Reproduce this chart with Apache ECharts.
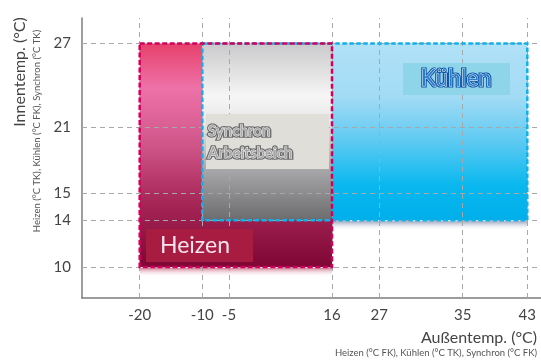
<!DOCTYPE html>
<html><head><meta charset="utf-8">
<script src="https://cdn.jsdelivr.net/npm/echarts@6/dist/echarts.min.js"></script>
<style>html,body{margin:0;padding:0;background:#fff}#c{width:541px;height:360px}</style>
</head><body><div id="c"></div>
<script>
// ---- data ----
const xTicks = [-20, -10, -5, 16, 27, 35, 43];
const yTicks = [10, 14, 15, 21, 27];
const regionNames = ['Heizen', 'Kühlen', 'Synchron'];
const regionXMin = [-20, -10, -10];
const regionXMax = [16, 43, 16];
const regionYMin = [10, 14, 14];
const regionYMax = [27, 27, 27];

// ---- layout: the reference uses a non-uniform (piecewise linear) scale ----
const xTickPos = [57.7, 120.3, 147, 250, 297.3, 380.7, 445.3];
const yTickPos = [31, 77.7, 105, 170.7, 254.4];
const X_MAX = 459, Y_MAX = 280;

function mapVal(v, ticks, pos) {
  let i = 0;
  while (i < ticks.length - 2 && v > ticks[i + 1]) i++;
  const t = (v - ticks[i]) / (ticks[i + 1] - ticks[i]);
  return pos[i] + t * (pos[i + 1] - pos[i]);
}
const mx = v => mapVal(v, xTicks, xTickPos);
const my = v => mapVal(v, yTicks, yTickPos);
function labelFor(v, ticks, pos) {
  const i = pos.findIndex(p => Math.abs(p - v) < 1e-3);
  return i >= 0 ? String(ticks[i]) : '';
}

const regionData = regionNames.map((n, i) => ({
  name: n,
  value: [mx(regionXMin[i]), mx(regionXMax[i]), my(regionYMin[i]), my(regionYMax[i])]
}));
const byName = n => regionData[regionNames.indexOf(n)];

const FONT = 'Lato, "Noto Sans", sans-serif';
const fills = {
  'Heizen': { type: 'linear', x: 0, y: 0, x2: 0, y2: 1, colorStops: [
    { offset: 0, color: '#e6416b' }, { offset: 0.2, color: '#ee72a8' },
    { offset: 0.45, color: '#d0568a' }, { offset: 0.7, color: '#a82858' },
    { offset: 1, color: '#7e0634' }] },
  'Kühlen': { type: 'linear', x: 0, y: 0, x2: 0, y2: 1, colorStops: [
    { offset: 0, color: '#b0e1f7' }, { offset: 0.3, color: '#a3dbf5' },
    { offset: 0.55, color: '#5ecaf2' }, { offset: 0.8, color: '#0ab8ef' },
    { offset: 1, color: '#00afea' }] },
  'Synchron': { type: 'linear', x: 0, y: 0, x2: 0, y2: 1, colorStops: [
    { offset: 0, color: '#cacacc' }, { offset: 0.3, color: '#f6f6f6' },
    { offset: 0.45, color: '#e6e6e6' }, { offset: 0.72, color: '#a6a6a8' },
    { offset: 1, color: '#6c6c6e' }] }
};
const borders = { 'Heizen': '#d2005c', 'Kühlen': '#10b0ea' };
const shadows = {
  'Heizen': ['rgba(205,110,135,0.85)', 'rgba(255,255,255,0)'],
  'Kühlen': ['rgba(95,105,145,0.6)', 'rgba(255,255,255,0)']
};

function rectOf(api) {
  const p0 = api.coord([api.value(0), api.value(3)]);
  const p1 = api.coord([api.value(1), api.value(2)]);
  return { x: p0[0], y: p0[1], width: p1[0] - p0[0], height: p1[1] - p0[1] };
}

const option = {
  animation: false,
  backgroundColor: '#fff',
  grid: { left: 82, right: 0, top: 18, bottom: 62 },
  xAxis: {
    type: 'value', min: 0, max: X_MAX,
    axisLine: { lineStyle: { color: '#7c7c7c', width: 1.5 } },
    axisTick: { show: false },
    splitLine: { show: false },
    axisLabel: { customValues: xTickPos, formatter: v => labelFor(v, xTicks, xTickPos),
      color: '#444', fontSize: 15, fontFamily: FONT, margin: 10 }
  },
  yAxis: {
    type: 'value', min: 0, max: Y_MAX,
    axisLine: { show: true, lineStyle: { color: '#7c7c7c', width: 1.5 } },
    axisTick: { show: false },
    splitLine: { show: false },
    axisLabel: { customValues: yTickPos, formatter: v => labelFor(v, yTicks, yTickPos),
      color: '#444', fontSize: 15, fontFamily: FONT, margin: 11 }
  },
  series: [
    {
      type: 'line', data: [], z: 1, silent: true,
      markLine: {
        silent: true, symbol: 'none', label: { show: false },
        lineStyle: { type: [5, 4], color: '#a8a8a8', width: 1 },
        data: xTickPos.map(p => ({ xAxis: p })).concat(yTickPos.map(p => ({ yAxis: p })))
      }
    },
    {
      type: 'custom', z: 2, silent: true, clip: false,
      data: [byName('Heizen'), byName('Kühlen')],
      renderItem: (params, api) => {
        const r = rectOf(api);
        const s = shadows[params.dataIndex === 0 ? 'Heizen' : 'Kühlen'];
        return { type: 'rect', shape: { x: r.x, y: r.y + r.height + 1, width: r.width, height: 9 },
          style: { fill: { type: 'linear', x: 0, y: 0, x2: 0, y2: 1,
            colorStops: [{ offset: 0, color: s[0] }, { offset: 1, color: s[1] }] } } };
      }
    },
    {
      type: 'custom', z: 3, silent: true, clip: false,
      data: regionData,
      renderItem: (params, api) => {
        const r = rectOf(api);
        const name = regionData[params.dataIndex].name;
        return { type: 'rect', shape: r, style: { fill: fills[name] } };
      }
    }
  ]
};

const chart = echarts.init(document.getElementById('c'), null, { renderer: 'canvas' });
chart.setOption(option);

// dashed region borders, positioned through the chart's own scale
function borderGraphic(name) {
  const i = regionNames.indexOf(name);
  const p0 = chart.convertToPixel({ gridIndex: 0 }, [mx(regionXMin[i]), my(regionYMax[i])]);
  const p1 = chart.convertToPixel({ gridIndex: 0 }, [mx(regionXMax[i]), my(regionYMin[i])]);
  return { type: 'rect', z: 8, silent: true,
    shape: { x: p0[0], y: p0[1], width: p1[0] - p0[0], height: p1[1] - p0[1] },
    style: { fill: 'transparent', stroke: borders[name], lineWidth: 2.5,
      lineDash: name === 'Heizen' ? [5, 2.5] : [4.5, 2.5] } };
}

chart.setOption({
  graphic: [
    borderGraphic('Kühlen'),
    borderGraphic('Heizen'),
    // region label boxes
    { type: 'rect', z: 10, shape: { x: 206, y: 114, width: 123, height: 55 }, style: { fill: '#e0ded8' } },
    { type: 'text', z: 11, style: { text: 'Synchron\nArbeitsbeich', x: 208, y: 120, font: 'bold 15px ' + FONT,
      fill: '#fff', stroke: '#6e6e6e', lineWidth: 3.5, lineHeight: 22 } },
    { type: 'text', z: 12, style: { text: 'Synchron\nArbeitsbeich', x: 208, y: 120, font: 'bold 15px ' + FONT,
      fill: '#a8a8a8', stroke: '#fff', lineWidth: 0.8, lineHeight: 22 } },

    { type: 'rect', z: 10, shape: { x: 146, y: 229, width: 107, height: 33 }, style: { fill: '#a81c42' } },
    { type: 'text', z: 11, style: { text: 'Heizen', x: 160, y: 246, font: '23px ' + FONT,
      fill: '#f8e4ee', textVerticalAlign: 'middle' } },

    { type: 'rect', z: 10, shape: { x: 403, y: 63, width: 107, height: 32 }, style: { fill: '#8fd5ea' } },
    { type: 'text', z: 11, style: { text: 'Kühlen', x: 456, y: 79, font: '23px ' + FONT,
      fill: '#fff', stroke: '#0d55a6', lineWidth: 3.2, textAlign: 'center', textVerticalAlign: 'middle' } },
    { type: 'text', z: 12, style: { text: 'Kühlen', x: 456, y: 79, font: '23px ' + FONT,
      fill: '#2a7ccc', stroke: '#fff', lineWidth: 0.8, textAlign: 'center', textVerticalAlign: 'middle' } },

    // axis titles
    { type: 'text', style: { text: 'Außentemp. (°C)', x: 537, y: 338, font: '16px ' + FONT, fill: '#444',
      textAlign: 'right', textVerticalAlign: 'middle' } },
    { type: 'text', style: { text: 'Heizen (°C FK), Kühlen (°C TK), Synchron (°C FK)', x: 537, y: 353,
      font: '9.5px ' + FONT, fill: '#555', textAlign: 'right', textVerticalAlign: 'middle' } },
    { type: 'text', x: 20, y: 72, rotation: Math.PI / 2, style: { text: 'Innentemp. (°C)', x: 0, y: 0,
      font: '16px ' + FONT, fill: '#444', textAlign: 'center', textVerticalAlign: 'middle' } },
    { type: 'text', x: 37, y: 131, rotation: Math.PI / 2, style: { text: 'Heizen (°C TK), Kühlen (°C FK), Synchron (°C TK)',
      x: 0, y: 0, font: '9.5px ' + FONT, fill: '#555', textAlign: 'center', textVerticalAlign: 'middle' } }
  ]
});
</script>
</body></html>
